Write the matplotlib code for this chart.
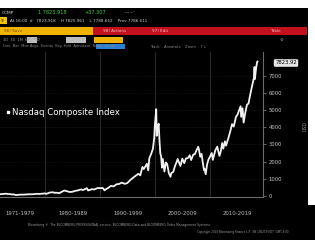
import matplotlib
matplotlib.use("Agg")
import matplotlib.pyplot as plt
from matplotlib.patches import Rectangle

# ---------------- data ----------------
years = [1971.8, 1972.0, 1972.5, 1972.9, 1973.3, 1973.7, 1973.95, 1974.3, 1974.75, 1974.95,
         1975.5, 1975.95, 1976.5, 1976.95, 1977.5, 1977.95, 1978.6, 1978.85, 1978.95, 1979.5,
         1979.95, 1980.2, 1980.9, 1981.5, 1981.75, 1981.95, 1982.6, 1982.95, 1983.5, 1983.95,
         1984.5, 1984.95, 1985.5, 1985.95, 1986.5, 1986.95, 1987.6, 1987.8, 1987.95, 1988.5,
         1988.95, 1989.6, 1989.95, 1990.5, 1990.8, 1990.95, 1991.5, 1991.95, 1992.5, 1992.95,
         1993.5, 1993.95, 1994.5, 1994.95, 1995.5, 1995.95, 1996.5, 1996.95, 1997.3, 1997.7,
         1997.95, 1998.5, 1998.75, 1998.95, 1999.3, 1999.6, 1999.85, 1999.95, 2000.2, 2000.3,
         2000.45, 2000.65, 2000.8, 2000.95, 2001.1, 2001.25, 2001.4, 2001.7, 2001.95, 2002.2,
         2002.5, 2002.8, 2002.95, 2003.3, 2003.6, 2003.95, 2004.1, 2004.6, 2004.95, 2005.3,
         2005.6, 2005.95, 2006.3, 2006.55, 2006.95, 2007.2, 2007.5, 2007.85, 2008.0, 2008.2,
         2008.45, 2008.7, 2008.9, 2009.0, 2009.2, 2009.45, 2009.7, 2009.95, 2010.3, 2010.5,
         2010.95, 2011.3, 2011.7, 2011.95, 2012.2, 2012.4, 2012.7, 2012.9, 2012.99, 2013.4,
         2013.7, 2013.99, 2014.3, 2014.7, 2014.99, 2015.4, 2015.55, 2015.65, 2015.9, 2016.1,
         2016.4, 2016.7, 2016.99, 2017.3, 2017.6, 2017.99, 2018.08, 2018.15, 2018.35, 2018.55,
         2018.62]
values = [105, 110, 125, 133, 115, 105, 92, 90, 58, 60,
          82, 78, 90, 98, 100, 105, 130, 112, 118, 137,
          151, 125, 205, 215, 177, 196, 166, 232, 320, 279,
          230, 247, 300, 325, 380, 349, 455, 323, 331, 394,
          381, 470, 454, 462, 330, 374, 475, 586, 560, 677,
          705, 777, 706, 752, 933, 1052, 1185, 1291, 1200, 1690,
          1570, 1870, 1490, 2193, 2460, 2740, 3400, 4069, 5048, 3500,
          3960, 4200, 3200, 2470, 2300, 1640, 2150, 1423, 1950, 1850,
          1330, 1114, 1335, 1400, 1730, 2003, 2150, 1750, 2175, 1910,
          2180, 2205, 2370, 2090, 2415, 2420, 2640, 2860, 2650, 2280,
          2450, 1880, 1500, 1577, 1268, 1830, 2120, 2269, 2500, 2100,
          2653, 2870, 2330, 2605, 3080, 2750, 3180, 2930, 3020, 3450,
          3800, 4177, 4040, 4590, 4736, 5100, 5218, 4600, 5100, 4270,
          4850, 5300, 5383, 5900, 6350, 6903, 7500, 6800, 7400, 7800,
          7820]
last_label = "7823.92"
series_name = "Nasdaq Composite Index"
y_ticks = [0, 1000, 2000, 3000, 4000, 5000, 6000, 7000]
decade_labels = ["1971-1979", "1980-1989", "1990-1999", "2000-2009", "2010-2019"]
decade_centers = [1975.5, 1985, 1995, 2005, 2015]
decade_bounds = [1980, 1990, 2000, 2010]

W, H = 315, 240
fig = plt.figure(figsize=(W / 100, H / 100), dpi=100, facecolor="black")

def fx(x):
    return x / W

def fy(y):
    return 1 - y / H

def rect(x0, y0, x1, y1, color, z=0):
    fig.patches.append(Rectangle((fx(x0), fy(y1)), (x1 - x0) / W, (y1 - y0) / H,
                                 transform=fig.transFigure, facecolor=color,
                                 edgecolor="none", zorder=z))

def txt(x, y, s, color, size=3.2, **kw):
    fig.text(fx(x), fy(y), s, color=color, fontsize=size, va="center",
             family="DejaVu Sans", **kw)

# white borders
rect(0, 0, W, 8, "white")
rect(308, 0, W, 205, "white")

# header row 1
txt(2, 12.5, "CCMP", "#d8d8d8", 3.2)
txt(38, 12.5, "1 7823.918", "#3fd14a", 3.6)
txt(84, 12.5, "+37.307", "#3fd14a", 3.6)
txt(124, 12.5, "~~~\u2019", "#bbbbbb", 3.0)

# header row 2
rect(0, 17, 7, 24, "#f2c200")
txt(1, 20.5, "9", "black", 3.0)
txt(10, 20.5, "At 16:00  d   7823.918    H 7825.961    L 7788.652    Prev 7786.611",
    "#cfcfcf", 3.0)

# header row 3: yellow + red bars
rect(0, 27, 93, 35, "#f0b400")
rect(93, 27, 307, 35, "#c2101c")
txt(4, 31, "96) Save", "#7a4a00", 3.0)
txt(103, 31, "98) Actions", "#f4c0c0", 3.0)
txt(152, 31, "97) Edit", "#f4c0c0", 3.0)
txt(270, 31, "Table", "#f4c0c0", 3.0)

# header row 4
rect(27, 37, 37, 43, "#bdbdbd")
rect(66, 37, 86, 43, "#bdbdbd")
rect(94, 37, 123, 43, "#f0b400")
txt(3, 40, "1D  3D  1M  6M  YTD", "#9a9a9a", 2.6)
txt(280, 40, "\u2699", "#9a9a9a", 3.0)

# header row 5
rect(96, 44, 125, 49, "#2a7fd0")
txt(3, 46.5, "Line  Bar  Mov Avgs  Events  Key  Edit  Annotate  News  Zoom", "#8a8a8a", 2.6)
txt(150, 46.5, "Track    Annotate    Zoom    \u2191\u2193", "#8a8a8a", 2.6)

# ---------------- chart ----------------
x0, x1 = 1971.8, 2019.62
ax = fig.add_axes([0, fy(197), fx(263), (197 - 52) / H])
ax.set_facecolor("black")
ax.plot(years, values, color="#f2f2f2", lw=1.3, solid_joinstyle="round")
ax.set_xlim(x0, x1)
ax.set_ylim(-58, 8372)

for v in y_ticks[1:]:
    ax.axhline(v, color="#333333", lw=0.4, ls=(0, (1, 2)), zorder=0)
for b in decade_bounds:
    ax.axvline(b, color="#3a3a3a", lw=0.5, zorder=0)

for s in ["top", "left"]:
    ax.spines[s].set_visible(False)
for s in ["right", "bottom"]:
    ax.spines[s].set_color("#6a6a6a")
    ax.spines[s].set_linewidth(0.8)

ax.yaxis.tick_right()
ax.set_yticks(y_ticks)
ax.set_yticklabels([str(v) for v in y_ticks])
ax.tick_params(axis="y", colors="#8a8a8a", labelcolor="#c8c8c8", labelsize=3.8,
               length=2.5, width=0.5, pad=1.5, direction="out")
ax.set_xticks(decade_centers)
ax.set_xticklabels(decade_labels)
ax.tick_params(axis="x", length=0, labelcolor="#c0c0c0", labelsize=3.9, pad=10)

# legend
ax.plot([1973.2], [4880], marker="s", ms=2, color="white", lw=0)
ax.text(1974.0, 4880, series_name, color="white", fontsize=6.2, va="center")

# last price box
fig.text(fx(286), fy(63), last_label, color="black", fontsize=3.8, ha="center",
         va="center", bbox=dict(boxstyle="round,pad=0.25", fc="#e6e6e6", ec="none"))

# right side rotated label
fig.text(fx(305), fy(126), "USD", color="#9a9a9a", fontsize=3.4, rotation=90,
         ha="center", va="center")

# footnote
txt(28, 225, "Bloomberg \u00ae  The BLOOMBERG PROFESSIONAL service, BLOOMBERG Data and BLOOMBERG Order Management Systems",
    "#9a9a9a", 2.2)
txt(197, 232, "Copyright 2018 Bloomberg Finance L.P.  SN 106219 EDT  GMT-4:00", "#9a9a9a", 2.0)

fig.savefig("out.png", dpi=100, facecolor="black")
